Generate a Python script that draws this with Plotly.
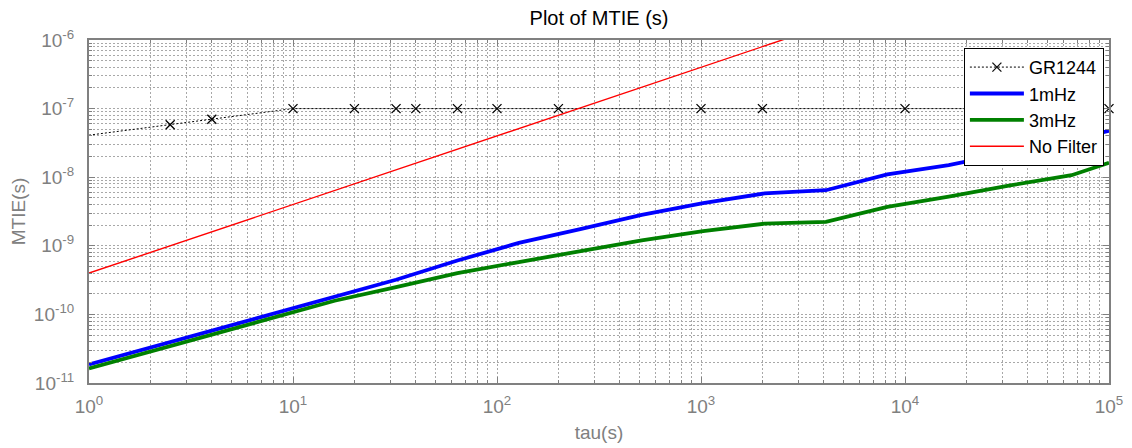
import plotly.graph_objects as go

# ---- data ----
gr_tau = [1, 2.5, 4, 10, 20, 32, 40, 64, 100, 200, 1000, 2000, 10000, 100000]
gr_mtie = [4.1e-8, 5.8e-8, 7.0e-8, 1e-7, 1e-7, 1e-7, 1e-7, 1e-7, 1e-7, 1e-7, 1e-7, 1e-7, 1e-7, 1e-7]
gr_marker_visible = [0, 1, 1, 1, 1, 1, 1, 1, 1, 1, 1, 1, 1, 1]

tau = [1, 2, 4, 8, 16, 32, 64, 128, 256, 512, 1024, 2048, 4096, 8192, 16384, 32768, 65536, 100000]
mtie_1mhz = [1.86e-11, 3.3e-11, 5.9e-11, 1.02e-10, 1.8e-10, 3.2e-10, 6.1e-10, 1.1e-9, 1.75e-9, 2.83e-9,
             4.2e-9, 5.8e-9, 6.46e-9, 1.1e-8, 1.5e-8, 2.26e-8, 3.5e-8, 4.74e-8]
mtie_3mhz = [1.63e-11, 2.9e-11, 5.1e-11, 8.9e-11, 1.58e-10, 2.5e-10, 4.0e-10, 5.8e-10, 8.3e-10, 1.2e-9,
             1.64e-9, 2.1e-9, 2.23e-9, 3.7e-9, 5.2e-9, 7.6e-9, 1.07e-8, 1.62e-8]

nf_tau = [1, 10, 100, 1000, 10000, 100000]
nf_mtie = [4e-10, 4e-9, 4e-8, 4e-7, 4e-6, 4e-5]

x_tickvals = [1, 10, 100, 1000, 10000, 100000]
x_ticktext = ["10<sup>0</sup>", "10<sup>1</sup>", "10<sup>2</sup>", "10<sup>3</sup>", "10<sup>4</sup>", "10<sup>5</sup>"]
y_tickvals = [1e-11, 1e-10, 1e-9, 1e-8, 1e-7, 1e-6]
y_ticktext = ["10<sup>-11</sup>", "10<sup>-10</sup>", "10<sup>-9</sup>", "10<sup>-8</sup>", "10<sup>-7</sup>", "10<sup>-6</sup>"]

# ---- styling ----
GRAY = "#808080"
GRID = "#a8a8a8"
FONT = "Liberation Sans, Arial, sans-serif"

# page body has an 8px default margin; figure is sized to fit the window
W, H = 1124, 440

fig = go.Figure()
fig.add_trace(go.Scatter(
    x=gr_tau, y=gr_mtie, name="GR1244", mode="lines+markers",
    line=dict(color="black", width=1, dash="2px,2px"),
    marker=dict(symbol="x-thin", size=9, color="black", opacity=gr_marker_visible,
                line=dict(color="black", width=1.3)),
    cliponaxis=False,
))
fig.add_trace(go.Scatter(
    x=tau, y=mtie_1mhz, name="1mHz", mode="lines",
    line=dict(color="#0000ff", width=3.8),
))
fig.add_trace(go.Scatter(
    x=tau, y=mtie_3mhz, name="3mHz", mode="lines",
    line=dict(color="#008000", width=3.8),
))
fig.add_trace(go.Scatter(
    x=nf_tau, y=nf_mtie, name="No Filter", mode="lines",
    line=dict(color="#ff0000", width=1.4),
))

axis_common = dict(
    type="log",
    showline=True, linecolor=GRAY, linewidth=2, mirror="ticks",
    showgrid=True, gridcolor=GRID, griddash="2px,2px", gridwidth=1,
    ticks="inside", ticklen=6, tickcolor=GRAY, tickwidth=1,
    tickfont=dict(family=FONT, size=19, color=GRAY),
    zeroline=False,
    minor=dict(dtick="D1", ticks="inside", ticklen=3, tickcolor=GRAY,
               showgrid=True, gridcolor=GRID, griddash="2px,2px", gridwidth=1),
)

fig.update_xaxes(
    **axis_common,
    range=[0, 5],
    tickmode="array", tickvals=x_tickvals, ticktext=x_ticktext,
    ticklabelstandoff=5,
    title=dict(text="tau(s)", font=dict(family=FONT, size=19, color=GRAY), standoff=10),
)
fig.update_yaxes(
    **axis_common,
    range=[-11, -6],
    tickmode="array", tickvals=y_tickvals, ticktext=y_ticktext,
    ticklabelstandoff=9,
    title=dict(text="MTIE(s)", font=dict(family=FONT, size=19, color=GRAY), standoff=6),
)

fig.update_layout(
    width=W, height=H,
    margin=dict(l=81, r=23, t=32, b=65, autoexpand=False),
    paper_bgcolor="white", plot_bgcolor="white",
    title=dict(text="Plot of MTIE (s)", font=dict(family=FONT, size=20, color="black"),
               x=591 / W, xanchor="center", y=1 - 10 / H, yanchor="middle",
               xref="container", yref="container"),
    legend=dict(
        x=0.995, y=0.977, xanchor="right", yanchor="top",
        bgcolor="white", bordercolor="black", borderwidth=1,
        font=dict(family=FONT, size=18, color="black"),
        itemwidth=54, tracegroupgap=0,
    ),
    showlegend=True,
)

fig.write_html("out.html")
